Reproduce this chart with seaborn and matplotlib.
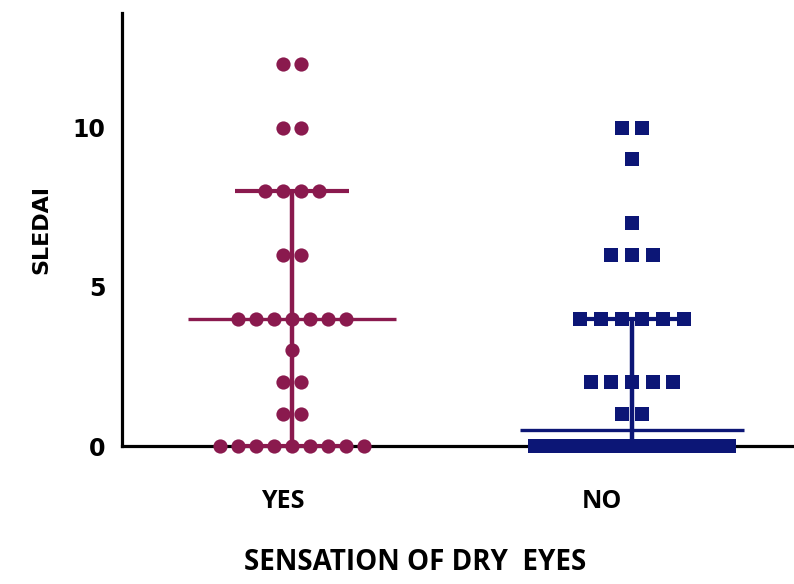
import numpy as np
import pandas as pd
import matplotlib
matplotlib.use("Agg")
import matplotlib.pyplot as plt
import matplotlib.transforms as mtrans
import seaborn as sns

# SLEDAI scores by answer to "sensation of dry eyes"
groups = ["YES", "NO"]
yes_sledai = [0, 0, 0, 0, 0, 0, 0, 0, 0, 1, 1, 2, 2, 3,
              4, 4, 4, 4, 4, 4, 4, 6, 6, 8, 8, 8, 8, 10, 10, 12, 12]
no_sledai = [0, 0, 0, 0, 0, 0, 0, 0, 0, 0, 0, 0, 0, 0, 0, 0, 0, 0, 0, 0,
             1, 1, 2, 2, 2, 2, 2, 4, 4, 4, 4, 4, 4, 6, 6, 6, 7, 9, 10, 10]
y_ticks = [0, 5, 10]

group_colors = {"YES": "#8a1a4e", "NO": "#0c1676"}
group_markers = {"YES": "o", "NO": "s"}
# horizontal step between tied points and max half-spread (x units)
group_step = {"YES": 0.053, "NO": 0.061}
group_spread = {"YES": 0.30, "NO": 0.285}

df = pd.DataFrame({
    "group": ["YES"] * len(yes_sledai) + ["NO"] * len(no_sledai),
    "sledai": yes_sledai + no_sledai,
})
df["pos"] = df["group"].map({g: i for i, g in enumerate(groups)}).astype(float)


def spread_ties(sub, step, half):
    # lay tied values side by side, squeezing a row when it gets too wide
    out = sub["pos"].copy()
    for v, idx in sub.groupby("sledai").groups.items():
        k = len(idx)
        s = step if k < 2 else min(step, 2 * half / (k - 1))
        out.loc[idx] = sub.loc[idx, "pos"] + (np.arange(k) - (k - 1) / 2) * s
    return out


df["xj"] = df["pos"]
for g in groups:
    m = df["group"] == g
    df.loc[m, "xj"] = spread_ties(df[m], group_step[g], group_spread[g])

sns.set_style("white", {"text.color": "black", "axes.labelcolor": "black",
                        "xtick.color": "black", "ytick.color": "black"})
fig = plt.figure(figsize=(7.94, 5.84), dpi=100)
ax = fig.add_axes([122 / 794, 1 - 446 / 584, 672 / 794, 433 / 584])

for g in groups:
    sub = df[df["group"] == g]
    sns.scatterplot(data=sub, x="xj", y="sledai", ax=ax, color=group_colors[g],
                    marker=group_markers[g], s=105 if g == "YES" else 100,
                    linewidth=0, clip_on=False, zorder=3, legend=False)

# median with interquartile range (GraphPad style quartiles)
for i, g in enumerate(groups):
    vals = np.array(df.loc[df["group"] == g, "sledai"])
    q1, med, q3 = np.percentile(vals, [25, 50, 75], method="weibull")
    half = 0.306 if g == "YES" else 0.33
    ax.hlines(med, i - half, i + half, color=group_colors[g], lw=2.4, zorder=4, clip_on=False)
    ax.vlines(i, q1, q3, color=group_colors[g], lw=3.2, zorder=4, clip_on=False)
    ax.hlines([q1, q3], i - 0.167, i + 0.167, color=group_colors[g], lw=3, zorder=4, clip_on=False)

ax.set_xlim(-0.5, -0.5 + 672 / 340)
ax.set_ylim(0, 13.6)
ax.set_yticks(y_ticks)
ax.set_yticklabels([str(t) for t in y_ticks], fontsize=17, fontweight="bold",
                   family="DejaVu Sans")
ax.set_xticks(range(len(groups)))
ax.set_xticklabels(groups, fontsize=18, fontweight="bold", family="Open Sans")

sns.despine(ax=ax)
for side in ["left", "bottom"]:
    ax.spines[side].set_linewidth(2.3)
    ax.spines[side].set_color("black")
ax.tick_params(axis="y", direction="out", length=7, width=2.2, color="black", pad=5)
ax.tick_params(axis="x", direction="out", length=4, width=1.8, color="black", pad=27)

# category labels sit a little left of the columns
for lab, dx in zip(ax.get_xticklabels(), [-9, -30]):
    lab.set_transform(lab.get_transform() + mtrans.ScaledTranslation(dx / 100, 0, fig.dpi_scale_trans))

ax.set_xlabel("SENSATION OF DRY  EYES", fontsize=20, fontweight="bold", family="Open Sans")
ax.xaxis.set_label_coords((415 - 122) / 672, -0.235)
ax.set_ylabel("SLEDAI", fontsize=16, fontweight="bold", family="DejaVu Sans")
ax.yaxis.set_label_coords(-0.105, 0.5)

fig.savefig("out.png", dpi=100)
